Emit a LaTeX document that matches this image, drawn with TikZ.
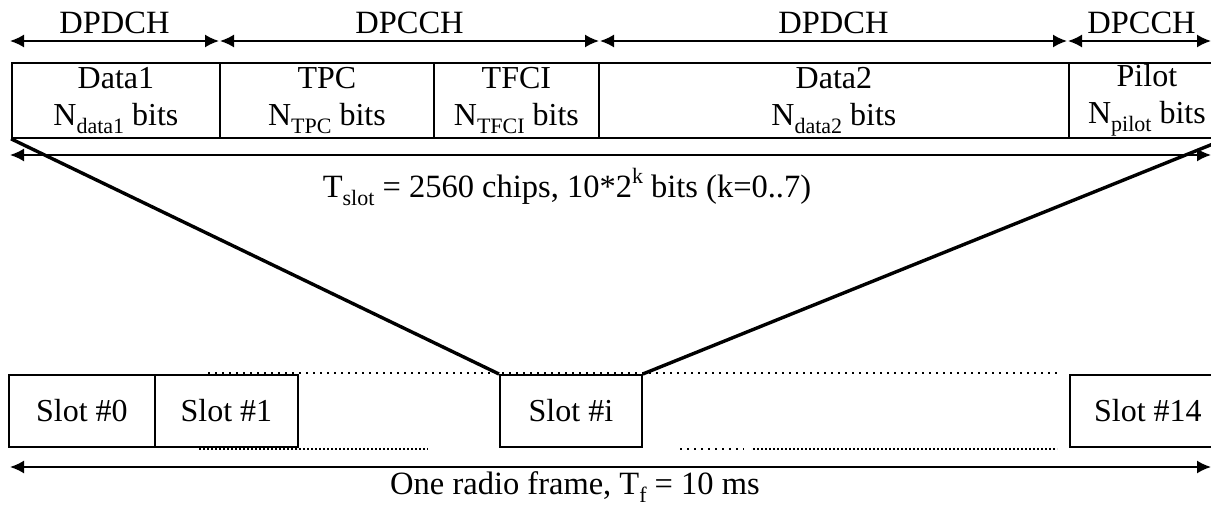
\documentclass[tikz,border=0pt]{standalone}
\usepackage{fontspec}
\setmainfont{Liberation Serif}
\usetikzlibrary{arrows.meta}
\newcommand\sbx[1]{\raisebox{-0.25em}{\fontsize{22}{22}\selectfont #1}}
\newcommand\spx[1]{\raisebox{0.42em}{\fontsize{22}{22}\selectfont #1}}
\begin{document}
\begin{tikzpicture}[x=1pt,y=-1pt,
  lbl/.style={font=\fontsize{32.5}{38}\selectfont, inner sep=0pt},
  cell/.style={draw, line width=1.8pt, minimum height=75pt, inner sep=0pt, anchor=north west, align=center, font=\fontsize{32}{37}\selectfont},
  slot/.style={draw, fill=white, line width=1.8pt, minimum height=72pt, inner sep=0pt, anchor=north west, font=\fontsize{32}{36}\selectfont},
  dim/.style={line width=1.8pt, {Latex[length=14pt,width=13pt]}-{Latex[length=14pt,width=13pt]}},
  fan/.style={line width=3.4pt},
  dots/.style={line width=1.5pt, dash pattern=on 2pt off 5pt},
  densedots/.style={line width=1.5pt, dash pattern=on 2pt off 2pt}]
\useasboundingbox (0,0) rectangle (1211,506);
\clip (0,0) rectangle (1211,506);

% top cells
\node[cell, minimum width=208pt] (d1) at (11,62) {Data1\\N\sbx{data1} bits};
\node[cell, minimum width=214pt] (tpc) at (219,62) {TPC\\N\sbx{TPC} bits};
\node[cell, minimum width=165pt] (tfci) at (433,62) {TFCI\\N\sbx{TFCI} bits};
\node[cell, minimum width=470pt] (d2) at (598,62) {Data2\\N\sbx{data2} bits};
\node[cell, minimum width=156pt] (pil) at (1068,62) {Pilot\\N\sbx{pilot} bits};

% top dimension arrows
\coordinate (a0) at (10,41);
\coordinate (a1) at (219,41);
\coordinate (a2) at (220,41);
\coordinate (a3) at (599,41);
\coordinate (a4) at (600,41);
\coordinate (a5) at (1067,41);
\coordinate (a6) at (1068,41);
\coordinate (a7) at (1211,41);
\draw[dim] (a0) -- node[lbl, above=6pt] {DPDCH} (a1);
\draw[dim] (a2) -- node[lbl, above=6pt] {DPCCH} (a3);
\draw[dim] (a4) -- node[lbl, above=6pt] {DPDCH} (a5);
\draw[dim] (a6) -- node[lbl, above=6pt, xshift=2pt] {DPCCH} (a7);

% slot length arrow
\coordinate (t0) at (10,155);
\coordinate (t1) at (1211,155);
\draw[dim] (t0) -- (t1);
\node[lbl] (tslot) at (567,187) {T\sbx{slot} = 2560 chips, 10*2\spx{k} bits (k=0..7)};

% dotted lines
\coordinate (p0) at (208,373);
\coordinate (p1) at (1058,373);
\draw[dots] (p0) -- (p1);
\coordinate (q0) at (199,449);
\coordinate (q1) at (428,449);
\coordinate (q2) at (680,449);
\coordinate (q3) at (744,449);
\coordinate (q4) at (753,449);
\coordinate (q5) at (1057,449);
\draw[densedots] (q0) -- (q1);
\draw[dots] (q2) -- (q3);
\draw[densedots] (q4) -- (q5);

% slots
\node[slot, minimum width=146pt] (s0) at (8,374) {Slot \#0};
\node[slot, minimum width=143pt] (s1) at (154,374) {Slot \#1};
\node[slot, minimum width=142pt] (si) at (499,374) {Slot \#i};
\node[slot, minimum width=156pt] (s14) at (1069,374) {Slot \#14};

% fan lines
\draw[fan] (d1.south west) -- (si.north west);
\draw[fan] (pil.south east) -- (si.north east);

% frame arrow
\coordinate (f0) at (10,467);
\coordinate (f1) at (1211,467);
\draw[dim] (f0) -- (f1);
\node[lbl] (frame) at (575,487) {One radio frame, T\sbx{f} = 10 ms};
\end{tikzpicture}
\end{document}
